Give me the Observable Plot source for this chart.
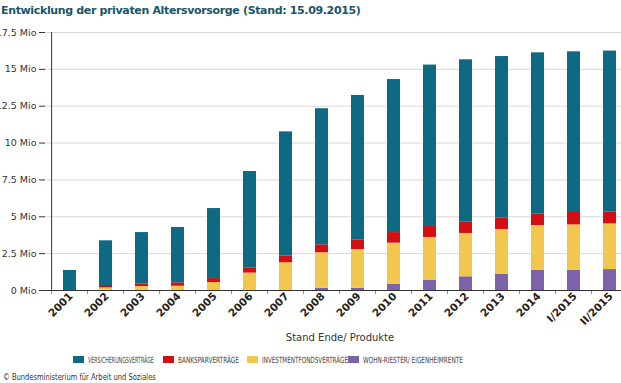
<!DOCTYPE html>
<html>
<head>
<meta charset="utf-8">
<script src="https://cdn.jsdelivr.net/npm/d3@7"></script>
<script src="https://cdn.jsdelivr.net/npm/@observablehq/plot@0.6"></script>
<style>
  html, body { margin: 0; padding: 0; background: #fff; overflow: hidden; width: 621px; height: 383px; }
  #title { font-family: "DejaVu Sans", sans-serif; font-weight: bold; font-size: 11px; letter-spacing: -0.35px; color: #1a5468; height: 22px; line-height: 22px; padding-left: 1px; white-space: nowrap; }
  #chart { height: 324px; width: 621px; overflow: hidden; }
  #legend, #credit { display: block; }
</style>
</head>
<body>
<div id="title">Entwicklung der privaten Altersvorsorge (Stand: 15.09.2015)</div>
<div id="chart"></div>
<svg id="legend" width="621" height="24"></svg>
<svg id="credit" width="621" height="13"></svg>
<script>
const categories = ["2001","2002","2003","2004","2005","2006","2007","2008","2009","2010","2011","2012","2013","2014","I/2015","II/2015"];
// values in Mio
const versicherung = [1.36, 3.03, 3.48, 3.75, 4.75, 6.53, 8.43, 9.23, 9.82, 10.38, 10.95, 10.99, 10.97, 10.92, 10.90, 10.93];
const bankspar     = [0, 0.16, 0.18, 0.23, 0.27, 0.36, 0.45, 0.54, 0.63, 0.72, 0.74, 0.79, 0.76, 0.79, 0.84, 0.79];
const investment   = [0, 0.18, 0.27, 0.29, 0.54, 1.18, 1.88, 2.41, 2.63, 2.78, 2.90, 2.94, 3.05, 3.05, 3.09, 3.10];
const wohnRiester  = [0, 0, 0, 0, 0, 0, 0, 0.15, 0.15, 0.43, 0.70, 0.93, 1.09, 1.36, 1.36, 1.42];
const seriesNames  = ["VERSICHERUNGSVERTRÄGE", "BANKSPARVERTRÄGE", "INVESTMENTFONDSVERTRÄGE", "WOHN-RIESTER/ EIGENHEIMRENTE"];
const seriesColors = ["#0e6a82", "#d40f14", "#f2c74e", "#7c62a8"];
const yTicks = [0, 2.5, 5, 7.5, 10, 12.5, 15, 17.5];
const xLabel = "Stand Ende/ Produkte";
const creditText = "© Bundesministerium für Arbeit und Soziales";

// long table, bottom-to-top stacking order
const stackOrder = [
  [seriesNames[3], wohnRiester],
  [seriesNames[2], investment],
  [seriesNames[1], bankspar],
  [seriesNames[0], versicherung]
];
const rows = [];
for (const [name, vals] of stackOrder) {
  categories.forEach((c, i) => rows.push({cat: c, series: name, value: vals[i]}));
}

const W = 634, ML = 45, MR = 0;
const step = (W - ML - MR) / categories.length;

const plot = Plot.plot({
  width: W,
  height: 324,
  marginTop: 10,
  marginLeft: ML,
  marginRight: MR,
  marginBottom: 56,
  style: {fontFamily: "DejaVu Sans, sans-serif", fontSize: "9px", color: "#333", background: "#fff", maxWidth: "none", overflow: "visible"},
  x: {domain: categories, paddingInner: 0.64, paddingOuter: 0.32},
  y: {domain: [0, 17.5]},
  color: {domain: seriesNames, range: seriesColors},
  marks: [
    Plot.gridY(yTicks, {stroke: "#d9d9d9", strokeOpacity: 1}),
    Plot.barY(rows, {x: "cat", y: "value", fill: "series", z: "series", order: null}),
    Plot.axisY(yTicks, {tickSize: 6, tickPadding: 3, tickFormat: d => d + " Mio", label: null, fontSize: 9.5, fill: "#333", stroke: "#333"}),
    Plot.axisX({tickSize: 4, dx: -step / 2, tickFormat: () => "", label: null, stroke: "#888"}),
    Plot.axisX({tickSize: 0, tickPadding: 4, dx: 1, tickRotate: -45, fontWeight: "bold", fontSize: 10.5, fill: "#222",
      label: xLabel, labelAnchor: "center", labelArrow: "none", labelOffset: 50}),
    Plot.ruleY([0], {stroke: "#333"}),
    Plot.ruleX([categories[0]], {dx: -step / 2, stroke: "#333"})
  ]
});
document.getElementById("chart").appendChild(plot);
d3.select(plot).selectAll("[aria-label='x-axis label'] text").attr("font-weight", "normal").attr("font-size", 10).attr("fill", "#333");

// fit a text to a target width by horizontal scaling
function fitText(sel, x, y, target) {
  const natural = sel.node().getComputedTextLength();
  const s = target / natural;
  sel.attr("x", 0).attr("y", 0).attr("transform", `translate(${x},${y}) scale(${s},1)`);
}

// legend
const color = plot.scale("color");
const lx = [73, 163, 247, 348];
const tl = [66, 61, 86, 100];
const leg = d3.select("#legend");
seriesNames.forEach((name, i) => {
  leg.append("rect").attr("x", lx[i]).attr("y", 10).attr("width", 11).attr("height", 7).attr("fill", color.apply(name));
  const t = leg.append("text")
    .attr("font-family", "DejaVu Sans Condensed, DejaVu Sans, sans-serif").attr("font-size", 8.5).attr("fill", "#444")
    .text(name);
  fitText(t, lx[i] + 15, 17, tl[i]);
});
const ct = d3.select("#credit").append("text")
  .attr("font-family", "DejaVu Sans Condensed, DejaVu Sans, sans-serif").attr("font-size", 9.5).attr("fill", "#333")
  .text(creditText);
fitText(ct, 3, 10, 153);
</script>
</body>
</html>
